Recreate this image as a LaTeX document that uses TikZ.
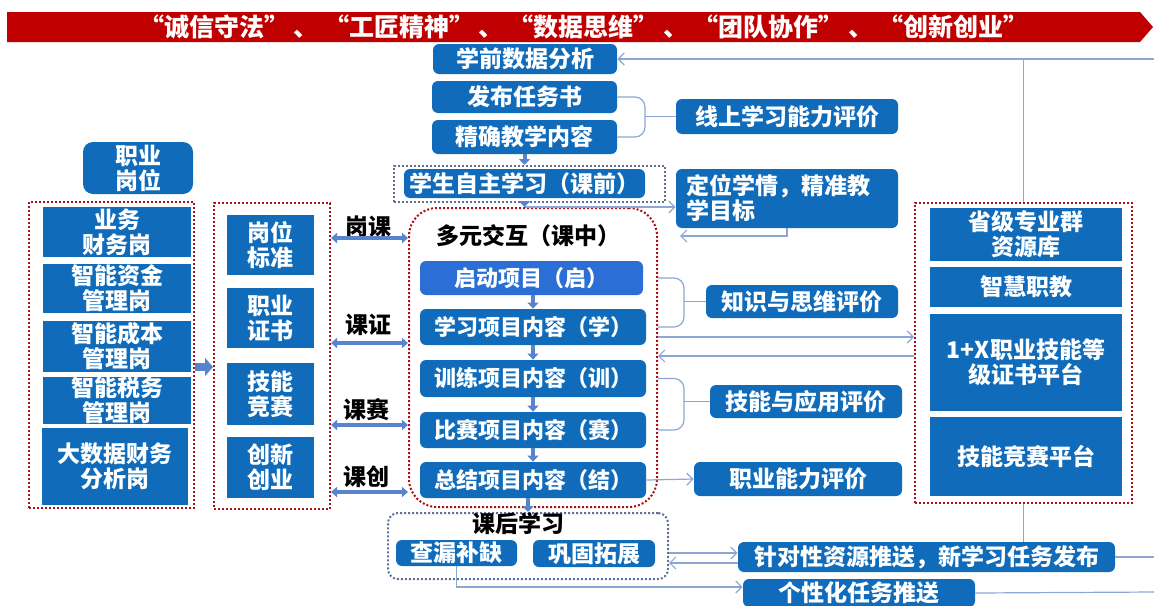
\documentclass[tikz,border=0pt]{standalone}
\usepackage{fontspec}
\setmainfont{Noto Sans CJK SC}
\usepackage{tikz}
\usetikzlibrary{positioning,arrows.meta}
\definecolor{boxblue}{RGB}{16,108,186}
\definecolor{startblue}{RGB}{42,110,214}
\definecolor{bannerred}{RGB}{192,0,0}
\definecolor{framered}{RGB}{170,16,24}
\definecolor{framegray}{RGB}{96,110,150}
\definecolor{linkblue}{RGB}{140,166,214}
\definecolor{arrowblue}{RGB}{88,132,204}
\tikzset{
  box/.style={fill=boxblue, text=white, align=center, inner sep=0pt, rounded corners=3pt, font={\fontsize{11.5}{12.5}\selectfont\bfseries}},
  post box/.style={box, sharp corners},
  project box/.style={box, minimum width=113pt, minimum height=18pt, font={\fontsize{11}{12}\selectfont\bfseries}},
  tag/.style={inner sep=0pt, font={\fontsize{11.5}{12.5}\selectfont\bfseries}},
  red frame/.style={draw=framered, line width=1pt, dash pattern=on 1pt off 1pt, inner sep=0pt},
  gray frame/.style={draw=framegray, line width=1pt, dash pattern=on 1pt off 1pt, inner sep=0pt, rounded corners=5pt},
  line/.style={draw=linkblue, line width=0.6pt},
  link/.style={line, -{Straight Barb[length=3pt,width=6pt]}},
  step arrow/.style={draw=arrowblue, line width=2pt, -{Triangle[length=3pt,width=5.5pt]}},
  twin arrow/.style={draw=arrowblue, line width=1.8pt, {Triangle[length=3pt,width=5pt]}-{Triangle[length=3pt,width=5pt]}},
  fat arrow/.style={draw=arrowblue, line width=4pt, -{Triangle[length=4pt,width=9pt]}},
}

\begin{document}
\begin{tikzpicture}[x=0.5pt,y=-0.5pt]
\useasboundingbox (0,0) rectangle (1154,605);
%the banner
\fill[bannerred] (7,12) -- (1140,12) -- (1153,27) -- (1140,42) -- (7,42) -- cycle;
\node[tag, text=white, font={\fontsize{12.5}{13}\selectfont\bfseries}] (motto) at (584,27) {“诚信守法”\,、\ “工匠精神”\,、\ “数据思维”\,、\ “团队协作”\,、\ “创新创业”};
%the nodes
\node[box, minimum width=92pt, minimum height=15pt] (pre) at (525,59) {学前数据分析};
\node[box, minimum width=92.5pt, minimum height=16pt] (task) at (524.5,97) {发布任务书};
\node[box, minimum width=92.5pt, minimum height=17pt] (content) at (524.5,137) {精确教学内容};
\node[box, minimum width=111pt, minimum height=17.5pt] (online) at (787,116.5) {线上学习能力评价};
\node[gray frame, sharp corners, minimum width=135.5pt, minimum height=18pt] (selfframe) at (529.5,184) {};
\node[box, minimum width=120.5pt, minimum height=14.5pt] (selfstudy) at (524.5,183.5) {学生自主学习（课前）};
\node[box, align=left, text width=101pt, inner xsep=5pt, minimum height=29.5pt] (locate) at (787,198.5) {定位学情，精准教\\学目标};
\node[red frame, rounded corners=14pt, minimum width=124pt, minimum height=149.5pt] (midframe) at (533,357.5) {};
\node[tag] (midtitle) at (528,236) {多元交互（课中）};
\node[project box, fill=startblue, minimum width=111.5pt, minimum height=17pt] (p1) at (531.5,278) {启动项目（启）};
\node[project box] (p2) at (533,327) {学习项目内容（学）};
\node[project box, minimum height=18.5pt] (p3) at (533,378.5) {训练项目内容（训）};
\node[project box] (p4) at (533,430) {比赛项目内容（赛）};
\node[project box] (p5) at (533,480) {总结项目内容（结）};
\node[box, minimum width=96pt, minimum height=16.5pt] (know) at (802,301.5) {知识与思维评价};
\node[box, minimum width=96pt, minimum height=16.5pt] (skill) at (806,401.5) {技能与应用评价};
\node[box, minimum width=104pt, minimum height=17pt] (career) at (798,479) {职业能力评价};
%posts
\node[box, rounded corners=5pt, minimum width=55pt, minimum height=26pt] (jobhead) at (138,168) {职业\\岗位};
\node[red frame, minimum width=82.5pt, minimum height=153pt] (lframe) at (111.5,355) {};
\node[post box, minimum width=74pt, minimum height=25pt] (j1) at (117,232) {业务\\财务岗};
\node[post box, minimum width=74pt, minimum height=24.5pt] (j2) at (117,288.5) {智能资金\\管理岗};
\node[post box, minimum width=74pt, minimum height=25.5pt] (j3) at (117,346.5) {智能成本\\管理岗};
\node[post box, minimum width=74pt, minimum height=23.5pt] (j4) at (117,400.5) {智能税务\\管理岗};
\node[post box, minimum width=73pt, minimum height=38.5pt] (j5) at (115,466.5) {大数据财务\\分析岗};
\node[red frame, minimum width=58pt, minimum height=153pt] (mframe) at (272,356) {};
\node[post box, minimum width=43.5pt, minimum height=30pt] (s1) at (270.5,245) {岗位\\标准};
\node[post box, minimum width=43.5pt, minimum height=30pt] (s2) at (270.5,318) {职业\\证书};
\node[post box, minimum width=43.5pt, minimum height=31pt] (s3) at (270.5,394) {技能\\竞赛};
\node[post box, minimum width=43.5pt, minimum height=30.5pt] (s4) at (270.5,467.5) {创新\\创业};
\node[tag] (gk) at (368,227) {岗课};
\node[tag] (kz) at (368,325) {课证};
\node[tag] (ks) at (366,410) {课赛};
\node[tag] (kc) at (366,477) {课创};
%platforms
\node[red frame, minimum width=108.5pt, minimum height=150pt] (rframe) at (1023.5,353) {};
\node[post box, minimum width=96pt, minimum height=26.5pt] (r1) at (1026,234.5) {省级专业群\\资源库};
\node[post box, minimum width=96pt, minimum height=20pt] (r2) at (1026,287) {智慧职教};
\node[post box, minimum width=96pt, minimum height=48.5pt] (r3) at (1026,362.5) {1+X职业技能等\\级证书平台};
\node[post box, minimum width=96pt, minimum height=39.5pt] (r4) at (1026,456.5) {技能竞赛平台};
%after class
\node[gray frame, minimum width=140pt, minimum height=33pt] (aframe) at (528,546) {};
\node[tag] (atitle) at (518,524) {课后学习};
\node[box, minimum width=60.5pt, minimum height=13pt] (fix) at (456.5,553) {查漏补缺};
\node[box, minimum width=61pt, minimum height=13.5pt] (ext) at (594,553.5) {巩固拓展};
\node[box, minimum width=188.5pt, minimum height=15pt] (push) at (926.5,557) {针对性资源推送，新学习任务发布};
\node[box, minimum width=116pt, minimum height=14pt] (personal) at (859,593) {个性化任务推送};
\coordinate (topend) at (1154,59);
\coordinate (pushend) at (1154,557);
\coordinate (persend) at (1154,592);
\coordinate (backend) at (680,236);
\coordinate (b1) at (645,116.5);
\coordinate (b2) at (684,301.5);
\coordinate (b3) at (684,401.5);
%drawings of vectors
\draw[link] (rframe.north) |- (pre.east);
\draw[line] (topend) -- (rframe.north |- pre.east);
\draw[line, rounded corners=5pt] (task.east) -| (b1) |- (content.east);
\draw[line] (b1) -- (online.west);
\draw[step arrow] (content.south) -- (selfframe.north -| content.south);
\draw[link] ([yshift=-2pt]selfframe.south -| content.south) -- ([yshift=-2pt]selfframe.south -| locate.west);
\draw[link] (locate.south) |- (backend);
\draw[step arrow] (selfframe.south -| content.south) -- (midframe.north -| content.south);
\draw[step arrow] (p2.north |- p1.south) -- (p2.north);
\draw[step arrow] (p2.south) -- (p3.north);
\draw[step arrow] (p3.south) -- (p4.north);
\draw[step arrow] (p4.south) -- (p5.north);
\draw[line, rounded corners=5pt] (p1.east -| midframe.east) -| (b2) |- (p2.east -| midframe.east);
\draw[line] (b2) -- (know.west);
\draw[line, rounded corners=5pt] (p3.east -| midframe.east) -| (b3) |- (p4.east -| midframe.east);
\draw[line] (b3) -- (skill.west);
\draw[link] ([yshift=-5pt]p2.east -| midframe.east) -- ([yshift=-5pt]p2.east -| rframe.west);
\draw[link] ([yshift=-14.5pt]p2.east -| rframe.west) -- ([yshift=-14.5pt]p2.east -| midframe.east);
\draw[link] (p5.east) -- (career.west);
\draw[step arrow] (aframe.north |- p5.south) -- (aframe.north);
\draw[fat arrow] ([yshift=-6pt]lframe.east) -- ([yshift=-6pt]lframe.east -| mframe.west);
\draw[twin arrow] ([yshift=3.5pt]s1.east -| mframe.east) -- ([yshift=3.5pt]s1.east -| midframe.west);
\draw[twin arrow] ([yshift=-12.5pt]s2.east -| mframe.east) -- ([yshift=-12.5pt]s2.east -| midframe.west);
\draw[twin arrow] ([yshift=-15.5pt]s3.east -| mframe.east) -- ([yshift=-15.5pt]s3.east -| midframe.west);
\draw[twin arrow] ([yshift=-12.25pt]s4.east -| mframe.east) -- ([yshift=-12.25pt]s4.east -| midframe.west);
\draw[link] ([yshift=-3.5pt]aframe.east) -- ([yshift=-3.5pt]aframe.east -| push.west);
\draw[link] ([yshift=-8.5pt]aframe.east -| push.west) -- ([yshift=-8.5pt]aframe.east);
\draw[link] (fix.south) |- ([yshift=3pt]personal.west);
\draw[line] (push.east) -- (pushend);
\draw[line] (personal.east) -- (persend);
\draw[line] (rframe.south) -- (rframe.south |- push.north);
\end{tikzpicture}
\end{document}
